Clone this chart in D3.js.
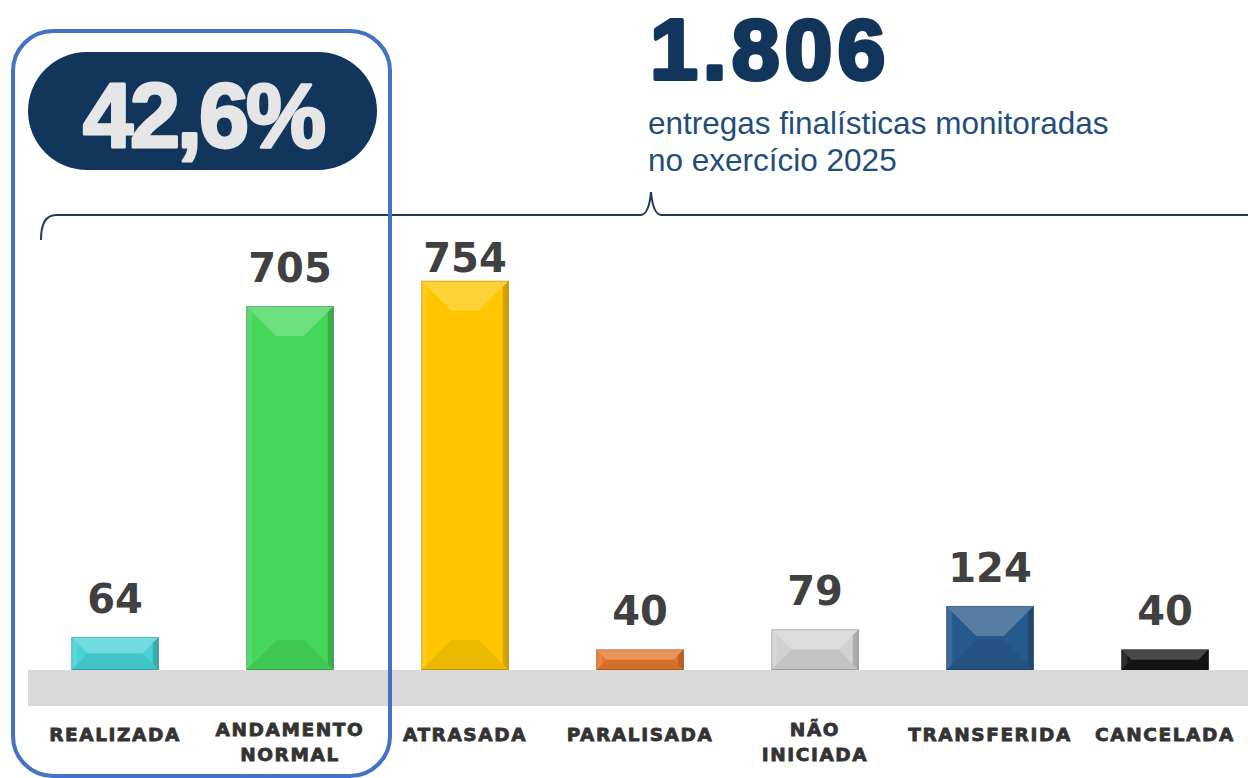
<!DOCTYPE html>
<html>
<head>
<meta charset="utf-8">
<script src="https://cdn.jsdelivr.net/npm/d3@7"></script>
<style>
  body { margin: 0; background: #fff; }
  svg { display: block; }
</style>
</head>
<body>
<div id="chart-area"></div>
<script>
// data
var categories = ['REALIZADA', 'ANDAMENTO NORMAL', 'ATRASADA', 'PARALISADA', 'NÃO INICIADA', 'TRANSFERIDA', 'CANCELADA']
var labelLines = [['REALIZADA'], ['ANDAMENTO', 'NORMAL'], ['ATRASADA'], ['PARALISADA'], ['NÃO', 'INICIADA'], ['TRANSFERIDA'], ['CANCELADA']]
var values = [64, 705, 754, 40, 79, 124, 40]
var colors = ['#48D3D6', '#45D65A', '#FFC600', '#E5772D', '#D2D2D2', '#275A8C', '#161616']
var total = '1.806'
var percent = '42,6%'
var subtitle = ['entregas finalísticas monitoradas', 'no exercício 2025']

var width = 1248
var height = 778
var baseY = 670

var svg = d3.select('#chart-area')
  .append('svg')
  .attr('width', width)
  .attr('height', height)

// scales
var x = d3.scaleBand()
  .domain(categories)
  .range([27.5, 1252.5])
  .padding(0)

var y = d3.scaleLinear()
  .domain([0, 800])
  .range([baseY, 257])

var barW = x.bandwidth() * 0.5

// gray floor band
svg.append('rect')
  .attr('x', 28)
  .attr('y', baseY)
  .attr('width', width - 28)
  .attr('height', 36)
  .attr('fill', '#D9D9D9')

// bars with bevel facets
var bars = svg.selectAll('.bar')
  .data(values)
  .enter().append('g')
  .attr('class', 'bar')

bars.each(function (d, i) {
  var g = d3.select(this)
  var x0 = x(categories[i]) + (x.bandwidth() - barW) / 2
  var x1 = x0 + barW
  var y0 = y(d)
  var y1 = y(0)
  var b = Math.min(30, (y1 - y0) / 2, barW / 2)
  var s = Math.min(6, b)

  g.append('rect')
    .attr('x', x0).attr('y', y0)
    .attr('width', barW).attr('height', y1 - y0)
    .attr('fill', colors[i])
  // top facet
  g.append('polygon')
    .attr('points', [[x0, y0], [x1, y0], [x1 - b, y0 + b], [x0 + b, y0 + b]].join(' '))
    .attr('fill', '#fff').attr('fill-opacity', 0.22)
  // left facet
  g.append('polygon')
    .attr('points', [[x0, y0], [x0 + s, y0 + s], [x0 + s, y1 - s], [x0, y1]].join(' '))
    .attr('fill', '#fff').attr('fill-opacity', 0.1)
  // right facet
  g.append('polygon')
    .attr('points', [[x1, y0], [x1 - s, y0 + s], [x1 - s, y1 - s], [x1, y1]].join(' '))
    .attr('fill', '#000').attr('fill-opacity', 0.18)
  // bottom facet
  g.append('polygon')
    .attr('points', [[x0, y1], [x1, y1], [x1 - b, y1 - b], [x0 + b, y1 - b]].join(' '))
    .attr('fill', '#000').attr('fill-opacity', 0.07)
  g.append('rect')
    .attr('x', x0 + 0.5).attr('y', y0 + 0.5)
    .attr('width', barW - 1).attr('height', y1 - y0 - 1)
    .attr('fill', 'none')
    .attr('stroke', '#000')
    .attr('stroke-opacity', 0.18)
})

// value labels
svg.selectAll('.value')
  .data(values)
  .enter().append('text')
  .attr('class', 'value')
  .attr('x', function (d, i) { return x(categories[i]) + x.bandwidth() / 2 })
  .attr('y', function (d) { return Math.max(y(d) - 24, 272) })
  .attr('text-anchor', 'middle')
  .attr('font-family', 'DejaVu Sans, sans-serif')
  .attr('font-weight', 'bold')
  .attr('font-size', 40)
  .attr('fill', '#404040')
  .text(function (d) { return d })

// category labels
var catLabels = svg.selectAll('.cat')
  .data(labelLines)
  .enter().append('text')
  .attr('class', 'cat')
  .attr('text-anchor', 'middle')
  .attr('font-family', 'DejaVu Sans, sans-serif')
  .attr('font-weight', 'bold')
  .attr('font-size', 18.5)
  .attr('letter-spacing', 1.6)
  .attr('fill', '#333')
  .attr('stroke', '#333')
  .attr('stroke-width', 0.8)

catLabels.selectAll('tspan')
  .data(function (d, i) { return d.map(function (t, j) { return {t: t, j: j, n: d.length, i: i} }) })
  .enter().append('tspan')
  .attr('x', function (d) { return x(categories[d.i]) + x.bandwidth() / 2 })
  .attr('y', function (d) { return d.n === 1 ? 741 : 736 + d.j * 25 })
  .text(function (d) { return d.t })

// bracket
svg.append('path')
  .attr('d', 'M41,240 Q41,215 56,215 L641,215 Q649,214 651,192 Q653,214 661,215 L1248,215')
  .attr('fill', 'none')
  .attr('stroke', '#1F3A5F')
  .attr('stroke-width', 2)

// headline number
svg.append('text')
  .attr('x', 650)
  .attr('y', 79)
  .attr('font-family', 'Liberation Sans, Arial, sans-serif')
  .attr('font-weight', 'bold')
  .attr('font-size', 86)
  .attr('letter-spacing', 5)
  .attr('fill', '#12355B')
  .attr('stroke', '#12355B')
  .attr('stroke-width', 4)
  .attr('stroke-linejoin', 'round')
  .text(total)

svg.selectAll('.sub')
  .data(subtitle)
  .enter().append('text')
  .attr('class', 'sub')
  .attr('x', 648)
  .attr('y', function (d, i) { return 134 + i * 37 })
  .attr('font-family', 'Liberation Sans, Arial, sans-serif')
  .attr('font-size', 31.5)
  .attr('fill', '#1F4E79')
  .text(function (d) { return d })

// highlight frame
svg.append('rect')
  .attr('x', 13)
  .attr('y', 31)
  .attr('width', 377)
  .attr('height', 745)
  .attr('rx', 40)
  .attr('fill', 'none')
  .attr('stroke', '#4472C4')
  .attr('stroke-width', 4)

svg.append('rect')
  .attr('x', 28)
  .attr('y', 52)
  .attr('width', 349)
  .attr('height', 118)
  .attr('rx', 59)
  .attr('fill', '#12355B')

svg.append('text')
  .attr('x', 203)
  .attr('y', 147)
  .attr('text-anchor', 'middle')
  .attr('font-family', 'Liberation Sans, Arial, sans-serif')
  .attr('font-weight', 'bold')
  .attr('font-size', 90)
  .attr('letter-spacing', -3)
  .attr('fill', '#E6E6E6')
  .attr('stroke', '#E6E6E6')
  .attr('stroke-width', 3)
  .attr('stroke-linejoin', 'round')
  .text(percent)
</script>
</body>
</html>
